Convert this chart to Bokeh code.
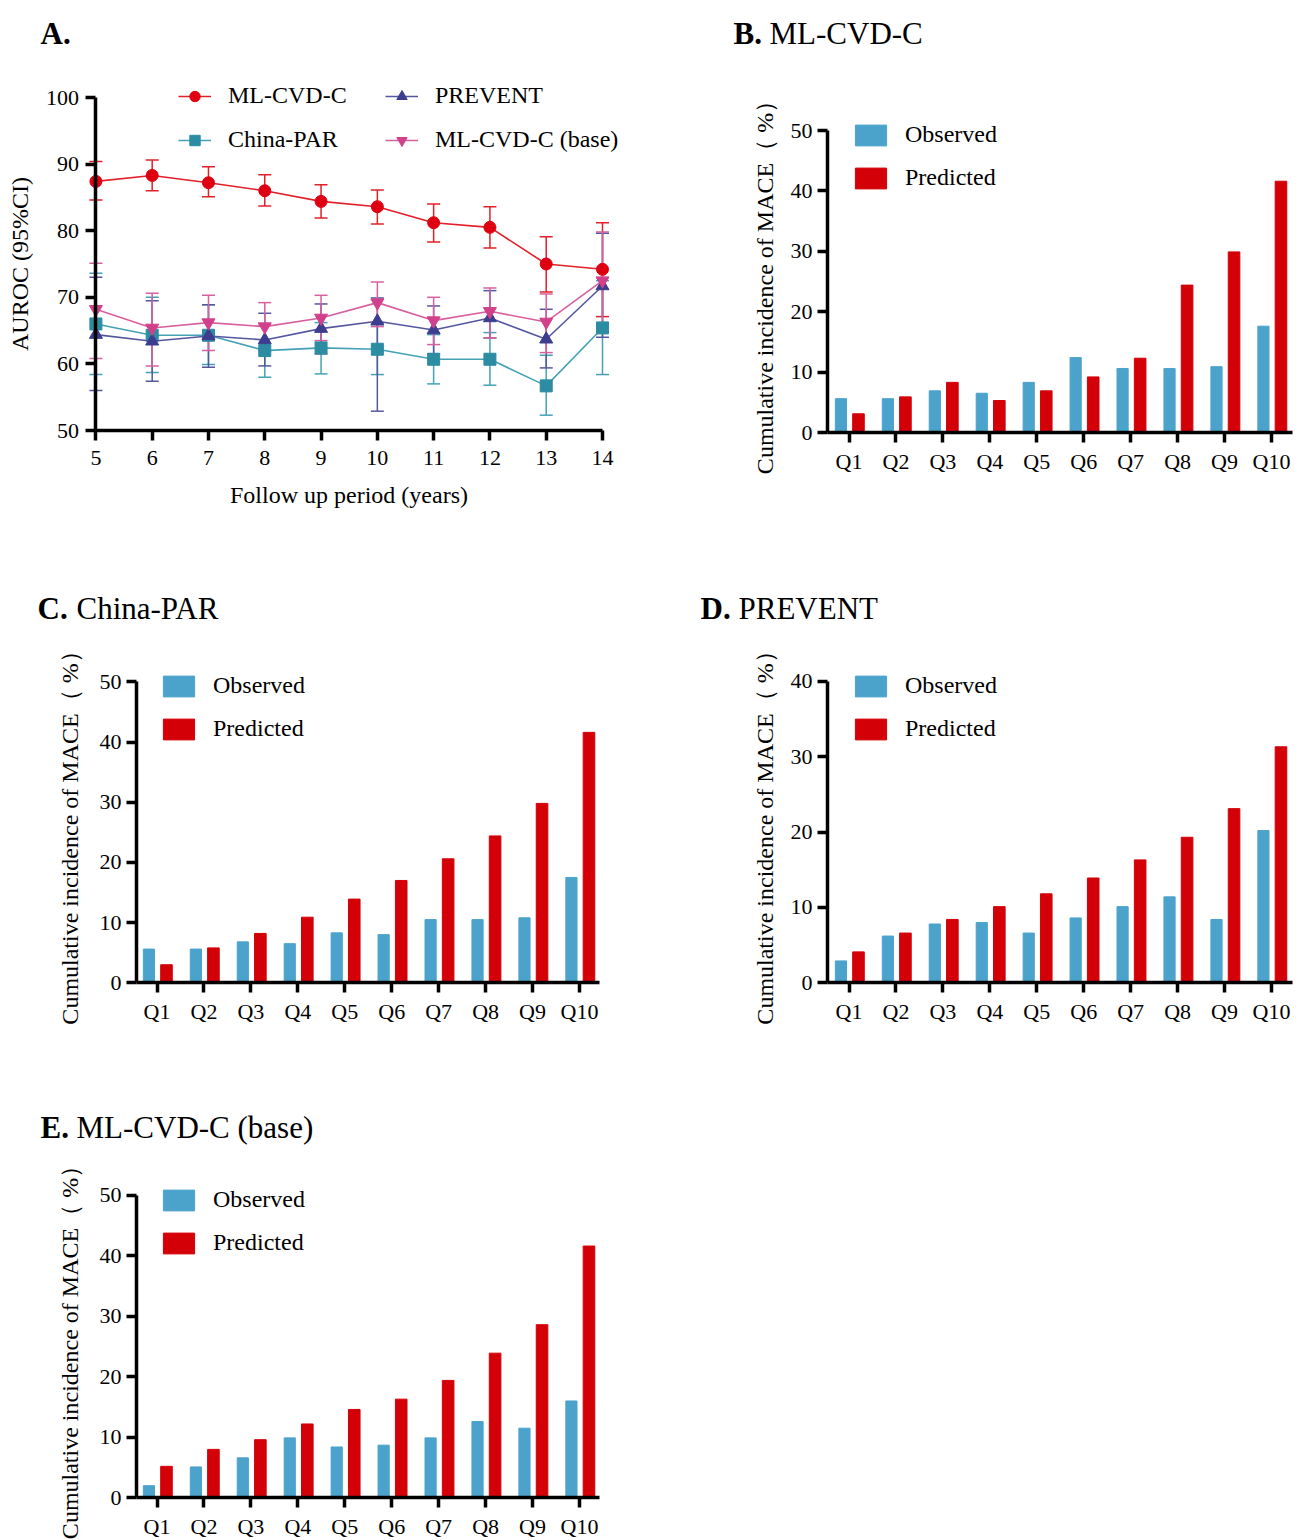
from bokeh.plotting import figure
from bokeh.models import (ColumnDataSource, Range1d, Legend, LegendItem, Label, Whisker,
                          TeeHead, FixedTicker, LinearAxis)
from bokeh.transform import dodge
from bokeh.layouts import row, column
from bokeh.embed import file_html
from bokeh.resources import INLINE

FONT = "Liberation Serif"

# ---------------- Panel A data ----------------
years = [5, 6, 7, 8, 9, 10, 11, 12, 13, 14]
ml = [87.4, 88.3, 87.2, 86.0, 84.4, 83.6, 81.2, 80.5, 75.0, 74.2]
ml_lo = [84.6, 86.0, 85.1, 83.7, 81.9, 81.0, 78.3, 77.4, 70.8, 67.1]
ml_hi = [90.4, 90.6, 89.6, 88.4, 86.9, 86.1, 84.0, 83.6, 79.1, 81.2]
china = [66.0, 64.3, 64.3, 62.0, 62.4, 62.2, 60.7, 60.7, 56.7, 65.4]
china_lo = [58.4, 58.7, 59.9, 58.0, 58.5, 58.4, 57.0, 56.8, 52.3, 58.4]
china_hi = [73.6, 70.0, 68.9, 65.8, 66.2, 66.0, 64.4, 64.7, 61.3, 72.5]
prevent = [64.4, 63.4, 64.2, 63.6, 65.3, 66.4, 65.1, 66.9, 63.7, 71.7]
prevent_lo = [56.0, 57.4, 59.5, 59.7, 61.5, 52.9, 61.5, 63.9, 59.4, 64.0]
prevent_hi = [73.0, 69.5, 68.9, 67.6, 69.0, 69.9, 68.7, 71.0, 68.2, 79.6]
base = [68.2, 65.4, 66.2, 65.6, 66.9, 69.2, 66.5, 67.9, 66.3, 72.5]
base_lo = [60.8, 59.7, 62.0, 62.0, 63.5, 65.6, 62.9, 63.9, 61.7, 66.0]
base_hi = [75.1, 70.6, 70.3, 69.2, 70.3, 72.3, 70.0, 71.4, 70.5, 79.8]
auroc_ticks = [50, 60, 70, 80, 90, 100]

# ---------------- Decile bar data ----------------
deciles = ["Q1", "Q2", "Q3", "Q4", "Q5", "Q6", "Q7", "Q8", "Q9", "Q10"]
b_obs = [5.6, 5.6, 6.9, 6.5, 8.3, 12.4, 10.6, 10.6, 10.9, 17.6]
b_pred = [3.1, 5.9, 8.3, 5.3, 6.9, 9.2, 12.3, 24.4, 29.9, 41.6]
c_obs = [5.6, 5.6, 6.8, 6.5, 8.3, 8.0, 10.5, 10.5, 10.8, 17.5]
c_pred = [3.0, 5.8, 8.2, 10.9, 13.9, 17.0, 20.6, 24.4, 29.8, 41.6]
d_obs = [2.9, 6.2, 7.8, 8.0, 6.6, 8.6, 10.1, 11.4, 8.4, 20.2]
d_pred = [4.1, 6.6, 8.4, 10.1, 11.8, 13.9, 16.3, 19.3, 23.1, 31.3]
e_obs = [2.0, 5.1, 6.6, 9.9, 8.4, 8.7, 9.9, 12.6, 11.5, 16.0]
e_pred = [5.2, 8.0, 9.6, 12.2, 14.6, 16.3, 19.4, 23.9, 28.6, 41.6]

OBS_COLOR = "#4BA3CC"
PRED_COLOR = "#D40008"


def canvas(left, top, w, h, xmap, ymap):
    """Figure whose frame fills the whole canvas; xmap/ymap = (pixel0, value0, pixel1, value1)."""
    px0, vx0, px1, vx1 = xmap
    py0, vy0, py1, vy1 = ymap
    sx = (vx1 - vx0) / (px1 - px0)
    sy = (vy1 - vy0) / (py1 - py0)
    fx = lambda px: vx0 + (px - px0) * sx
    fy = lambda py: vy0 + (py - py0) * sy
    p = figure(width=w, height=h, x_range=Range1d(fx(left), fx(left + w)),
               y_range=Range1d(fy(top + h), fy(top)), output_backend="svg",
               toolbar_location=None, title=None, x_axis_location=None, y_axis_location=None,
               min_border_left=0, min_border_right=0, min_border_top=0, min_border_bottom=0)
    p.outline_line_color = None
    p.background_fill_color = "white"
    p.border_fill_color = "white"
    return p, fx, fy


def hide_grids(p):
    for g in p.grid:
        g.visible = False
        g.grid_line_color = None


def style_axis(ax):
    ax.axis_line_width = 3.5
    ax.axis_line_color = "black"
    ax.major_tick_line_width = 3.5
    ax.major_tick_line_color = "black"
    ax.major_tick_out = 10
    ax.major_tick_in = 0
    ax.minor_tick_line_color = None
    ax.major_label_text_font = FONT
    ax.major_label_text_font_size = "22px"
    ax.major_label_text_color = "black"
    ax.axis_label_text_font = FONT
    ax.axis_label_text_font_size = "24px"
    ax.axis_label_text_font_style = "normal"
    ax.axis_label_text_color = "black"


def add_title(p, fx, fy, letter, name, x_px, name_px, base_px):
    p.add_layout(Label(x=fx(x_px), y=fy(base_px), text=letter, text_font=FONT,
                       text_font_size="31px", text_font_style="bold",
                       text_baseline="alphabetic", text_align="left", text_color="black"))
    if name:
        p.add_layout(Label(x=fx(name_px), y=fy(base_px), text=name, text_font=FONT,
                           text_font_size="31px", text_font_style="normal",
                           text_baseline="alphabetic", text_align="left", text_color="black"))


def make_legend(its, vx, vy, gw, gh, standoff, spacing):
    return Legend(items=its, location=(vx, vy), orientation="vertical",
                  glyph_width=gw, glyph_height=gh, label_height=gh, label_standoff=standoff,
                  spacing=spacing, padding=0, margin=0, border_line_color=None,
                  background_fill_alpha=0, label_text_font=FONT,
                  label_text_font_size="24px", label_text_color="black",
                  label_text_baseline="middle")


# ---------------- Panel A ----------------
A_LEFT, A_TOP, A_W, A_H = 0, 0, 700, 563
pA, fxA, fyA = canvas(A_LEFT, A_TOP, A_W, A_H, (95.4, 5, 602.0, 14), (430.0, 50, 97.0, 100))

series = [
    ("ML-CVD-C", ml, ml_lo, ml_hi, "#DE0010", "#E2202A", "circle", 12),
    ("China-PAR", china, china_lo, china_hi, "#2B8CA2", "#45A2B6", "square", 12),
    ("PREVENT", prevent, prevent_lo, prevent_hi, "#3C3D8E", "#55579E", "triangle", 13),
    ("ML-CVD-C (base)", base, base_lo, base_hi, "#D1408A", "#D9609E", "inverted_triangle", 13),
]
items = {}
for name, vals, lo, hi, mcol, lcol, marker, size in series:
    src = ColumnDataSource(dict(x=years, y=vals, lo=lo, hi=hi))
    w = Whisker(source=src, base="x", upper="hi", lower="lo", dimension="height",
                line_color=lcol, line_width=1.5,
                upper_head=TeeHead(size=13, line_color=lcol, line_width=1.5),
                lower_head=TeeHead(size=13, line_color=lcol, line_width=1.5))
    pA.add_layout(w)
    lr = pA.line("x", "y", source=src, line_color=lcol, line_width=1.6)
    sr = pA.scatter("x", "y", source=src, marker=marker, size=size, fill_color=mcol,
                    line_color=mcol)
    items[name] = LegendItem(label=name, renderers=[lr, sr])

xaA = LinearAxis(fixed_location=auroc_ticks[0], bounds=(years[0], years[-1]),
                 ticker=FixedTicker(ticks=years), axis_label="Follow up period (years)")
style_axis(xaA)
xaA.major_label_standoff = 10
xaA.axis_label_standoff = 14
pA.add_layout(xaA, "below")
yaA = LinearAxis(fixed_location=years[0], bounds=(auroc_ticks[0], auroc_ticks[-1]),
                 ticker=FixedTicker(ticks=auroc_ticks), axis_label="AUROC (95%CI)")
style_axis(yaA)
yaA.major_label_standoff = 7
yaA.axis_label_standoff = 10
pA.add_layout(yaA, "left")
hide_grids(pA)

# legends: bottom-left corner, pixels from the canvas' bottom-left
pA.add_layout(make_legend([items["ML-CVD-C"], items["China-PAR"]],
                          178 - A_LEFT, (A_TOP + A_H) - 153, 33, 26, 17, 17))
pA.add_layout(make_legend([items["PREVENT"], items["ML-CVD-C (base)"]],
                          385 - A_LEFT, (A_TOP + A_H) - 153, 33, 26, 17, 17))
add_title(pA, fxA, fyA, "A.", "", 40, 0, 33.3)


# ---------------- Bar panels ----------------
def bar_panel(left, top, w, h, ax_l, ax_r, q1_px, q10_px, y0_px, ytop_px, ymax,
              obs, pred, letter, name, t_x, t_name_x, t_base, leg_x, leg_bottom, ylab_off):
    p, fx, fy = canvas(left, top, w, h, (q1_px, 1, q10_px, 10), (y0_px, 0, ytop_px, ymax))
    pos = list(range(1, len(deciles) + 1))
    src = ColumnDataSource(dict(xi=pos, obs=obs, pred=pred))
    ro = p.vbar(x=dodge("xi", -0.172), top="obs", width=0.238, source=src,
                fill_color=OBS_COLOR, line_color=OBS_COLOR)
    rp = p.vbar(x=dodge("xi", 0.202), top="pred", width=0.247, source=src,
                fill_color=PRED_COLOR, line_color=PRED_COLOR)
    yt = list(range(0, ymax + 1, 10))
    xa = LinearAxis(fixed_location=0, bounds=(fx(ax_l), fx(ax_r)),
                    ticker=FixedTicker(ticks=pos),
                    major_label_overrides={i: q for i, q in zip(pos, deciles)})
    style_axis(xa)
    xa.major_label_standoff = 6
    p.add_layout(xa, "below")
    ya = LinearAxis(fixed_location=fx(ax_l), bounds=(0, ymax), ticker=FixedTicker(ticks=yt),
                    axis_label="Cumulative incidence of MACE（ %）")
    style_axis(ya)
    ya.major_label_standoff = 5
    ya.axis_label_standoff = ylab_off
    p.add_layout(ya, "left")
    hide_grids(p)
    leg = make_legend([LegendItem(label="Observed", renderers=[ro]),
                       LegendItem(label="Predicted", renderers=[rp])],
                      leg_x - left, (top + h) - leg_bottom, 39, 26, 15, 16)
    p.add_layout(leg)
    add_title(p, fx, fy, letter, name, t_x, t_name_x, t_base)
    return p


pB = bar_panel(700, 0, 608, 563, 827, 1292, 848.5, 1271, 432.0, 130.0, 50, b_obs, b_pred,
               "B.", "ML-CVD-C", 733, 769, 33.3, 851, 191, 10)
pC = bar_panel(0, 563, 700, 520, 136, 599, 156.5, 579, 982.3, 681.3, 50, c_obs, c_pred,
               "C.", "China-PAR", 37, 76, 607.5, 159, 742, 14)
pD = bar_panel(700, 563, 608, 520, 827, 1292, 848.5, 1271, 982.3, 680.7, 40, d_obs, d_pred,
               "D.", "PREVENT", 700, 738, 607.5, 851, 742, 10)
pE = bar_panel(0, 1083, 700, 457, 136, 599, 156.5, 579, 1497.3, 1194.7, 50, e_obs, e_pred,
               "E.", "ML-CVD-C (base)", 40, 76, 1127.3, 159, 1256, 14)

layout = column(row(pA, pB), row(pC, pD), pE)
open("out.html", "w").write(file_html(layout, INLINE))
